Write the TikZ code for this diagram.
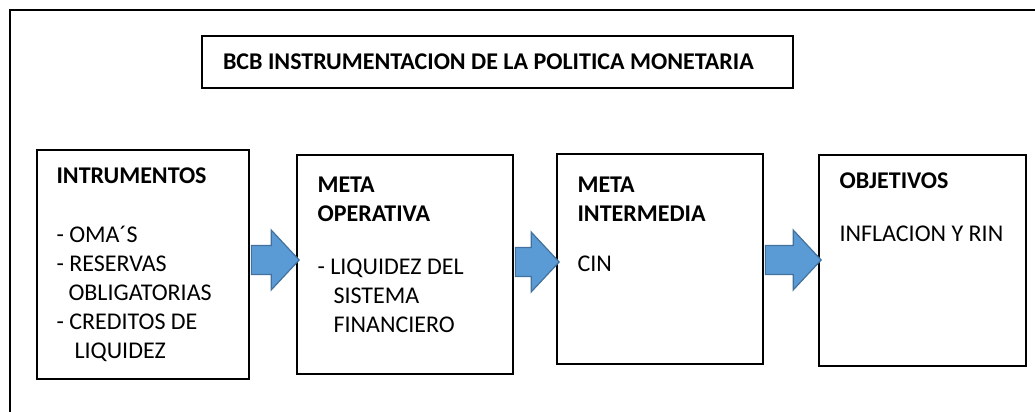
\documentclass[tikz,border=0pt]{standalone}
\usepackage{fontspec}
\setmainfont{Carlito}
\usetikzlibrary{calc,positioning}

\definecolor{azulflecha}{HTML}{5B9BD5}
\definecolor{bordeflecha}{HTML}{41719C}

\tikzset{
  caja/.style={draw,line width=0.85pt,inner sep=0pt},
  texto/.style={anchor=base west,align=left,inner sep=0pt,
    font=\fontsize{12pt}{14.5pt}\selectfont},
  flecha/.style={fill=azulflecha,draw=bordeflecha,line width=0.6pt,line join=miter},
  marco/.style={line width=1.1pt}
}

% block arrow from #1 (east) to #2 (west), #3 = vertical offset
\newcommand{\flechagrande}[3]{%
  \draw[flecha] let \p1=($(#1.east)+(1.5,#3)$), \p2=(#2.west) in
    (\x1,\y1+7.25pt) -- (\x2-12.5pt,\y1+7.25pt) -- (\x2-12.5pt,\y1+15pt)
    -- (\x2+1.5pt,\y1) -- (\x2-12.5pt,\y1-15pt) -- (\x2-12.5pt,\y1-7.25pt)
    -- (\x1,\y1-7.25pt) -- cycle;}

\begin{document}
\begin{tikzpicture}[x=0.5pt,y=-0.5pt]
    \useasboundingbox (0,0) rectangle (1035,412);
    \draw[marco] (1035,10) -- (10,10) -- (10,412);

    \node[caja,minimum height=26pt,inner xsep=10.5pt,text width=274.5pt,align=flush left,
      font=\bfseries\fontsize{12pt}{14.5pt}\selectfont] (titulo) at (497.5,62)
      {BCB INSTRUMENTACION DE LA POLITICA MONETARIA};

    \node[caja,minimum width=106pt,minimum height=114.5pt] (instr) at (143,264.5) {};
    \node[caja,minimum width=108pt,minimum height=109.5pt] (operativa) at (405,264.5) {};
    \node[caja,minimum width=103pt,minimum height=105pt] (intermedia) at (660,259) {};
    \node[caja,minimum width=103.5pt,minimum height=105.5pt] (objetivos) at (922.5,260.5) {};

    % the base anchor sits on the last line
    \node[texto] (t1) at ([shift={+(20,209)}]instr.north west)
      {\textbf{INTRUMENTOS}\\[15pt]
       - OMA´S\\
       - RESERVAS\\
       \hspace*{6pt}OBLIGATORIAS\\
       - CREDITOS DE\\
       \hspace*{9pt}LIQUIDEZ};
    \node[texto] (t2) at ([shift={+(21,178)}]operativa.north west)
      {\textbf{META}\\
       \textbf{OPERATIVA}\\[12pt]
       - LIQUIDEZ DEL\\
       \hspace*{8pt}SISTEMA\\
       \hspace*{8pt}FINANCIERO};
    \node[texto] (t3) at ([shift={+(21,118)}]intermedia.north west)
      {\textbf{META}\\
       \textbf{INTERMEDIA}\\[10.5pt]
       CIN};
    \node[texto] (t4) at ([shift={+(21,87)}]objetivos.north west)
      {\textbf{OBJETIVOS}\\[12pt]
       INFLACION Y RIN};

    \flechagrande{instr}{operativa}{-4.5}
    \flechagrande{operativa}{intermedia}{-2.5}
    \flechagrande{intermedia}{objetivos}{1}
\end{tikzpicture}
\end{document}
